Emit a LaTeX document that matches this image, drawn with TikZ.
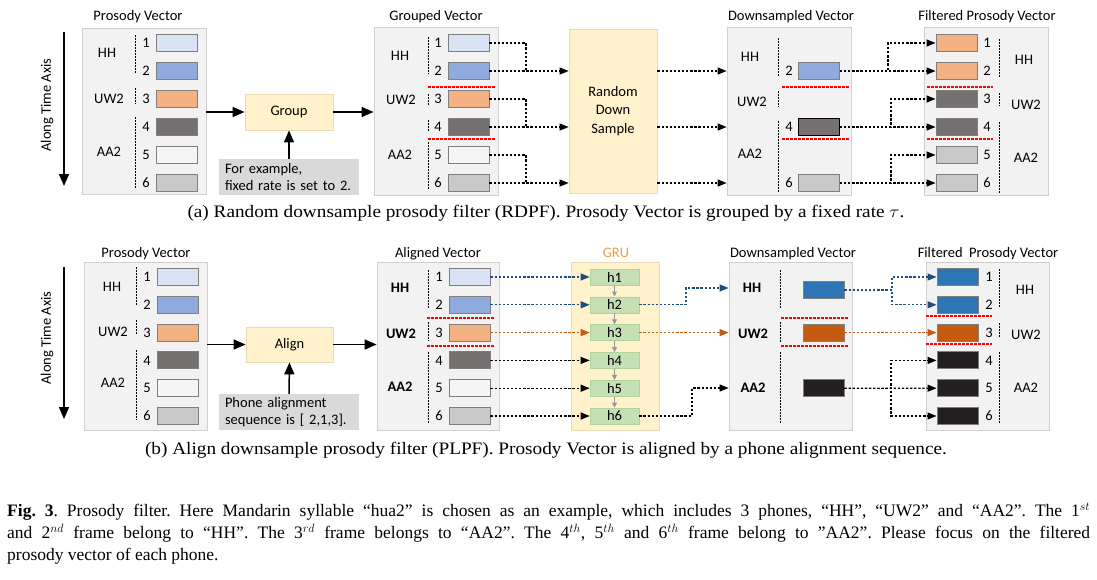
\documentclass[tikz,border=0pt]{standalone}
\usepackage{fontspec}
\setmainfont{Liberation Serif}
\newfontfamily\df{Carlito}
\usetikzlibrary{arrows.meta,calc}
\definecolor{boxfill}{HTML}{F2F2F2}
\definecolor{boxline}{HTML}{D0D0D0}
\definecolor{ylw}{HTML}{FFF2CC}
\definecolor{ylwline}{HTML}{E8DDB5}
\definecolor{exfill}{HTML}{D9D9D9}
\definecolor{ca}{HTML}{DAE3F3}
\definecolor{cb}{HTML}{8FAADC}
\definecolor{cc}{HTML}{F4B183}
\definecolor{cd}{HTML}{767171}
\definecolor{ce}{HTML}{F5F5F5}
\definecolor{cf}{HTML}{C9C9C9}
\definecolor{bl}{HTML}{2E75B6}
\definecolor{orng}{HTML}{C55A11}
\definecolor{blk}{HTML}{231F20}
\definecolor{grn}{HTML}{C5E0B4}
\definecolor{grnline}{HTML}{B0D39A}
\definecolor{arrblue}{HTML}{1F4E79}
\definecolor{gruor}{HTML}{EE9A55}
\definecolor{rectline}{HTML}{7F7F7F}
\tikzset{
  panel/.style={draw=boxline, fill=boxfill, line width=0.8pt, inner sep=0},
  vec/.style={draw=rectline, line width=0.9pt, minimum width=41pt, minimum height=17pt, inner sep=0},
  lbl/.style={font=\df\fontsize{14.5}{17}\selectfont, inner sep=0},
  blbl/.style={font=\df\bfseries\fontsize{14.5}{17}\selectfont, inner sep=0},
  ttl/.style={font=\df\fontsize{14.5}{17}\selectfont, inner sep=0, anchor=base},
  sep/.style={line width=1pt, dash pattern=on 1.5pt off 1.5pt},
  redsep/.style={red, line width=1.1pt, dash pattern=on 2.5pt off 1.5pt},
  dotl/.style={line width=1.15pt, dash pattern=on 2.3pt off 1.8pt},
  dotarr/.style={dotl, -{Triangle[length=9pt,width=7pt]}},
  mainarr/.style={line width=1.5pt, -{Triangle[length=12pt,width=10pt]}},
  ylwbox/.style={draw=ylwline, fill=ylw, line width=0.8pt, inner sep=0, font=\df\fontsize{14.5}{18.5}\selectfont, align=center},
  exbox/.style={fill=exfill, inner sep=0, minimum width=140pt, minimum height=36pt, font=\df\fontsize{14.5}{17}\selectfont, align=left, text width=128pt},
  hbox/.style={draw=grnline, fill=grn, line width=0.6pt, minimum width=49pt, minimum height=16pt, inner sep=0, font=\df\fontsize{14.5}{17}\selectfont},
  grayarr/.style={draw=gray!80, line width=1pt, -{Triangle[length=5pt,width=5pt]}},
  subcap/.style={font=\fontsize{17.5}{20}\selectfont, inner sep=0, xscale=1.1},
}
\begin{document}
\begin{tikzpicture}[x=1pt,y=-1pt]
\useasboundingbox (0,0) rectangle (1097,579);

%================ panel (a) ================
\node[lbl, rotate=90] (ataxis) at (47,105) {Along Time Axis};
\coordinate (at1) at (64,32);
\coordinate (at2) at (64,186);
\draw[mainarr] (at1) -- (at2);

\node[panel, minimum width=124pt, minimum height=166pt] (apbox) at (144,111.5) {};
\node[panel, minimum width=124pt, minimum height=168pt] (agbox) at (436,111) {};
\node[panel, minimum width=124pt, minimum height=168pt] (adbox) at (789,111) {};
\node[panel, minimum width=124pt, minimum height=168pt] (afbox) at (986,111) {};
\node[ttl] (apt) at (138,20) {Prosody Vector};
\node[ttl] (agt) at (436,20) {Grouped Vector};
\node[ttl] (adt) at (791,20) {Downsampled Vector};
\node[ttl] (aft) at (987,20) {Filtered Prosody Vector};

\foreach \i/\c in {1/ca,2/cb,3/cc,4/cd,5/ce,6/cf}{
  \node[vec, fill=\c] (ap\i) at (176.5,{43+28*(\i-1)}) {};
  \node[lbl] (apn\i) at (146,{43+28*(\i-1)}) {\i};
  \node[vec, fill=\c] (ag\i) at (468.5,{43+28*(\i-1)}) {};
  \node[lbl] (agn\i) at (438,{43+28*(\i-1)}) {\i};
}
\foreach \i/\c in {1/cc,2/cc,3/cd,4/cd,5/cf,6/cf}{
  \node[vec, fill=\c] (af\i) at (956.5,{43+28*(\i-1)}) {};
  \node[lbl] (afn\i) at (987,{43+28*(\i-1)}) {\i};
}
\node[vec, fill=cb] (ad2) at (819,71) {};
\node[vec, fill=cd, draw=black] (ad4) at (819,127) {};
\node[vec, fill=cf] (ad6) at (819,183) {};
\node[lbl] (adn2) at (789,71) {2};
\node[lbl] (adn4) at (789,127) {4};
\node[lbl] (adn6) at (789,183) {6};

\node[lbl] (apHH) at (107,53) {HH};
\node[lbl] (apUW) at (109,99) {UW2};
\node[lbl] (apAA) at (109,152) {AA2};
\node[lbl] (agHH) at (400,56) {HH};
\node[lbl] (agUW) at (401,100) {UW2};
\node[lbl] (agAA) at (400,155) {AA2};
\node[lbl] (adHH) at (750,57) {HH};
\node[lbl] (adUW) at (752,102) {UW2};
\node[lbl] (adAA) at (750,154) {AA2};
\node[lbl] (afHH) at (1024,60) {HH};
\node[lbl] (afUW) at (1026,105) {UW2};
\node[lbl] (afAA) at (1026,158) {AA2};

\draw[sep] (135,35)--(135,73) (135,88)--(135,104) (135,117)--(135,188);
\draw[sep] (428,37)--(428,74) (428,94)--(428,106) (428,120)--(428,132) (428,142)--(428,190);
\draw[sep] (778,38)--(778,77) (778,91)--(778,107) (778,121)--(778,193);
\draw[sep] (999,39)--(999,77) (999,93)--(999,106) (999,122)--(999,193);
\draw[redsep] (428,87)--(496,87) (428,139)--(496,139);
\draw[redsep] (782,87)--(849,87) (782,139)--(849,139);
\draw[redsep] (927,87)--(993,87) (927,139)--(993,139);

\node[ylwbox, minimum width=88pt, minimum height=36pt] (group) at (289,112) {Group};
\node[exbox] (aex) at (289,177) {For example,\\fixed rate is set to 2.};
\draw[mainarr] (apbox.east |- group) -- (group.west);
\draw[mainarr] (group.east) -- (agbox.west |- group);
\draw[mainarr] (aex.north) -- (group.south);

\node[ylwbox, minimum width=88pt, minimum height=164pt] (rds) at (613,111) {Random\\Down\\Sample};
\coordinate (ja) at (526,0);
\foreach \a/\b in {1/2,3/4,5/6}{
  \draw[dotl] (ag\a.east) -| (ja |- ag\b);
  \draw[dotarr] (ag\b.east) -- (rds.west |- ag\b);
}
\foreach \k in {2,4,6}{
  \draw[dotarr] (rds.east |- ad\k) -- (adbox.west |- ad\k);
}
\coordinate (jb) at (888,0);
\coordinate (jc) at (891,0);
\draw[dotarr] (ad2.east) -| (jb |- af1) -- (af1.west);
\draw[dotarr] (ad2.east) -- (af2.west);
\draw[dotarr] (ad4.east) -| (jc |- af3) -- (af3.west);
\draw[dotarr] (ad4.east) -- (af4.west);
\draw[dotarr] (ad6.east) -| (jc |- af5) -- (af5.west);
\draw[dotarr] (ad6.east) -- (af6.west);

\node[subcap] (capa) at (546,213) {(a) Random downsample prosody filter (RDPF). Prosody Vector is grouped by a fixed rate $\tau$.};

%================ panel (b) ================
\node[lbl, rotate=90] (btaxis) at (47,338) {Along Time Axis};
\coordinate (bt1) at (64,267);
\coordinate (bt2) at (64,419);
\draw[mainarr] (bt1) -- (bt2);

\node[panel, minimum width=123pt, minimum height=168pt] (bpbox) at (145.5,346) {};
\node[panel, minimum width=122pt, minimum height=168pt] (babox) at (438,346) {};
\node[panel, minimum width=123pt, minimum height=168pt] (bdbox) at (790.5,346) {};
\node[panel, minimum width=123pt, minimum height=168pt] (bfbox) at (987.5,346) {};
\node[ylwbox, minimum width=88pt, minimum height=168pt] (gru) at (615,346) {};
\node[ttl] (bpt) at (146,257) {Prosody Vector};
\node[ttl] (bat) at (438,257) {Aligned Vector};
\node[ttl, text=gruor] (bgt) at (616,257) {GRU};
\node[ttl] (bdt) at (793,257) {Downsampled Vector};
\node[ttl] (bft) at (988,257) {Filtered\ \ Prosody Vector};

\foreach \i/\c in {1/ca,2/cb,3/cc,4/cd,5/ce,6/cf}{
  \node[vec, fill=\c] (bp\i) at (178,{277+27.8*(\i-1)}) {};
  \node[lbl] (bpn\i) at (147,{277+27.8*(\i-1)}) {\i};
  \node[vec, fill=\c] (ba\i) at (469.5,{277+27.8*(\i-1)}) {};
  \node[lbl] (ban\i) at (439,{277+27.8*(\i-1)}) {\i};
  \node[hbox] (bh\i) at (614.5,{277+27.8*(\i-1)}) {h\i};
}
\foreach \i/\c in {1/bl,2/bl,3/orng,4/blk,5/blk,6/blk}{
  \node[vec, fill=\c] (bf\i) at (957.5,{277+27.8*(\i-1)}) {};
  \node[lbl] (bfn\i) at (989,{277+27.8*(\i-1)}) {\i};
}
\node[vec, fill=bl] (bd1) at (823.5,290) {};
\node[vec, fill=orng] (bd2) at (823.5,332.6) {};
\node[vec, fill=blk] (bd3) at (823.5,388.2) {};

\node[lbl] (bpHH) at (112,287) {HH};
\node[lbl] (bpUW) at (113,332) {UW2};
\node[lbl] (bpAA) at (113,383) {AA2};
\node[blbl] (baHH) at (400,288) {HH};
\node[blbl] (baUW) at (401,334) {UW2};
\node[blbl] (baAA) at (400,387) {AA2};
\node[blbl] (bdHH) at (752,288) {HH};
\node[blbl] (bdUW) at (753,334) {UW2};
\node[blbl] (bdAA) at (753,388) {AA2};
\node[lbl] (bfHH) at (1025,290) {HH};
\node[lbl] (bfUW) at (1026,335) {UW2};
\node[lbl] (bfAA) at (1026,388) {AA2};

\draw[sep] (136,267)--(136,306) (136,320)--(136,335) (136,350)--(136,420);
\draw[sep] (428,270)--(428,308) (428,322)--(428,341) (428,352)--(428,423);
\draw[sep] (780,270)--(780,309) (780,322)--(780,342) (780,352)--(780,424);
\draw[sep] (999,269)--(999,308) (999,323)--(999,337) (999,352)--(999,423);
\draw[redsep] (427,318)--(494,318) (427,346)--(494,346);
\draw[redsep] (781,318)--(848,318) (781,346)--(848,346);
\draw[redsep] (926,316)--(992,316) (926,344)--(992,344);

\node[ylwbox, minimum width=87pt, minimum height=35pt] (align) at (289.5,344.5) {Align};
\node[exbox] (bex) at (289,412) {Phone alignment\\sequence is [ 2,1,3].};
\draw[mainarr] (bpbox.east |- align) -- (align.west);
\draw[mainarr] (align.east) -- (babox.west |- align);
\draw[mainarr] (bex.north) -- (align.south);

\foreach \a/\b in {1/2,2/3,3/4,4/5,5/6}{
  \draw[grayarr] (bh\a.south) -- (bh\b.north);
}
\draw[dotarr, arrblue] (ba1.east) -- (bh1.west);
\draw[dotarr, arrblue] (ba2.east) -- (bh2.west);
\draw[dotarr, orng] (ba3.east) -- (bh3.west);
\draw[dotarr] (ba4.east) -- (bh4.west);
\draw[dotarr] (ba5.east) -- (bh5.west);
\draw[dotarr] (ba6.east) -- (bh6.west);

\coordinate (jd) at (686,0);
\coordinate (je) at (692,0);
\draw[dotarr, arrblue] (bh2.east) -| (jd |- bdHH) -- (bdbox.west |- bdHH);
\draw[dotarr, orng] (bh3.east) -- (bdbox.west |- bh3);
\draw[dotarr] (bh6.east) -| (je |- bdAA) -- (bdbox.west |- bdAA);

\coordinate (jf) at (892,0);
\coordinate (jg) at (891,0);
\draw[dotarr, arrblue] (bd1.east) -| (jf |- bf1) -- (bf1.west);
\draw[dotarr, arrblue] (bd1.east) -| (jf |- bf2) -- (bf2.west);
\draw[dotarr, orng] (bd2.east) -- (bf3.west);
\draw[dotarr] (bd3.east) -| (jg |- bf4) -- (bf4.west);
\draw[dotarr] (bd3.east) -- (bf5.west);
\draw[dotarr] (bd3.east) -| (jg |- bf6) -- (bf6.west);

\node[subcap] (capb) at (546,450) {(b) Align downsample prosody filter (PLPF). Prosody Vector is aligned by a phone alignment sequence.};

\node[anchor=north west, inner sep=0, text width=1083pt, align=justify, font=\frenchspacing\fontsize{17.5}{22}\selectfont] (cap) at (7,503) {\textbf{Fig. 3}. Prosody filter. Here Mandarin syllable “hua2” is chosen as an example, which includes 3 phones, “HH”, “UW2” and “AA2”. The 1$^{st}$\linebreak and 2$^{nd}$ frame belong to “HH”. The 3$^{rd}$ frame belongs to “AA2”. The 4$^{th}$, 5$^{th}$ and 6$^{th}$ frame belong to ”AA2”. Please focus on the filtered\linebreak prosody vector of each phone.};
\end{tikzpicture}
\end{document}
